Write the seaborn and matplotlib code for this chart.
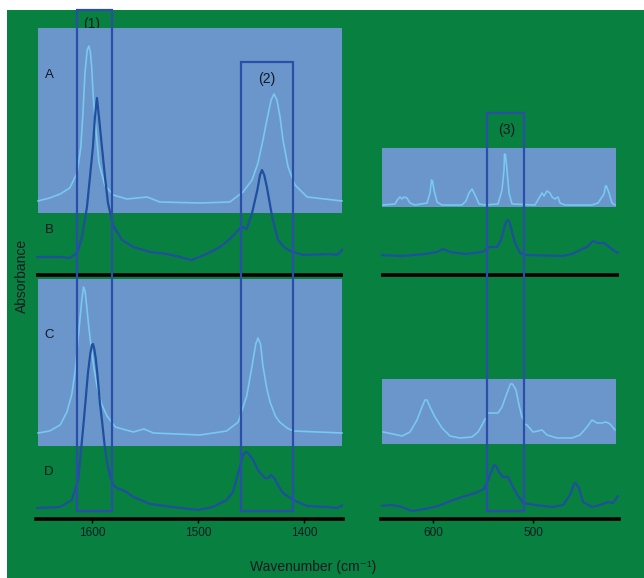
import matplotlib
matplotlib.use("Agg")
import matplotlib.pyplot as plt
from matplotlib.patches import Rectangle
import seaborn as sns
import numpy as np

sns.set_style("white")
plt.rcParams['font.family'] = ['Liberation Sans', 'DejaVu Sans']

# ---- left region, 1650-1365 cm-1 (absorbance relative to each trace's own baseline) ----
wn_A_left = [1651, 1640, 1630, 1621, 1614, 1610.5, 1608.5, 1606.6, 1604.5, 1603, 1601.5, 1600.3,
             1598.8, 1596.2, 1593.4, 1588, 1580, 1567, 1548, 1536, 1498, 1470, 1457.5, 1449,
             1443.4, 1438.7, 1435, 1431, 1428.3, 1425.5, 1422.6, 1419.8, 1415, 1408.5, 1397, 1364]
abs_A_left = [-0.01, 0.02, 0.06, 0.12, 0.27, 0.53, 0.87, 1.27, 1.50, 1.54, 1.48, 1.33, 1.03, 0.70,
              0.37, 0.15, 0.05, 0.01, 0.03, -0.02, -0.03, -0.02, 0.08, 0.20, 0.37, 0.60, 0.80,
              1.00, 1.06, 1.00, 0.83, 0.60, 0.33, 0.15, 0.03, -0.01]

wn_B_left = [1653, 1630, 1621, 1614, 1609.4, 1604.7, 1601.9, 1599.1, 1597.2, 1595.3, 1593.4,
             1590.6, 1587.7, 1584.9, 1580.2, 1571.7, 1561, 1545, 1529, 1517, 1506, 1492, 1479,
             1470, 1462, 1458.5, 1454, 1449, 1444, 1441.5, 1439.6, 1437.5, 1435, 1430, 1424.5,
             1419, 1413, 1401, 1375.5, 1369, 1363]
abs_B_left = [0.00, 0.00, -0.01, 0.04, 0.20, 0.50, 0.80, 1.10, 1.40, 1.59, 1.40, 1.10, 0.80, 0.54,
              0.32, 0.17, 0.10, 0.05, 0.03, 0.00, -0.03, 0.03, 0.10, 0.18, 0.27, 0.30, 0.28, 0.44,
              0.67, 0.82, 0.87, 0.82, 0.70, 0.40, 0.17, 0.10, 0.06, 0.02, 0.03, 0.02, 0.08]

wn_C_left = [1651, 1640, 1630, 1623.6, 1619, 1616, 1613.5, 1611.3, 1609.5, 1608, 1606.5, 1604.7,
             1603, 1600.9, 1598, 1595.3, 1591, 1585.8, 1578, 1561, 1551, 1542, 1498, 1473, 1462,
             1454, 1449, 1445.5, 1443.4, 1441, 1438.7, 1435, 1432, 1427, 1423, 1416, 1410, 1364]
abs_C_left = [0.01, 0.03, 0.09, 0.22, 0.40, 0.62, 0.90, 1.15, 1.35, 1.47, 1.43, 1.25, 1.07, 0.88,
              0.65, 0.48, 0.30, 0.18, 0.07, 0.02, 0.05, 0.01, -0.01, 0.03, 0.12, 0.38, 0.68, 0.90,
              0.96, 0.90, 0.68, 0.45, 0.32, 0.18, 0.12, 0.06, 0.03, 0.01]

wn_D_left = [1653, 1630, 1619, 1613, 1608.5, 1606, 1603.8, 1601.5, 1600, 1599.1, 1598, 1596.5,
             1595, 1592.5, 1590.6, 1588, 1585.8, 1583, 1580, 1575, 1571, 1566, 1561, 1545, 1524,
             1500, 1486, 1473, 1467, 1462, 1457.5, 1455, 1452.8, 1448, 1443.5, 1437, 1434, 1431,
             1428, 1425.5, 1420, 1410, 1397, 1378, 1369, 1363]
abs_D_left = [0.00, 0.01, 0.08, 0.28, 0.78, 1.08, 1.35, 1.55, 1.63, 1.64, 1.60, 1.50, 1.35, 1.05,
              0.88, 0.62, 0.46, 0.32, 0.23, 0.19, 0.18, 0.15, 0.11, 0.04, 0.01, -0.02, 0.01, 0.08,
              0.16, 0.35, 0.53, 0.56, 0.55, 0.48, 0.38, 0.30, 0.30, 0.33, 0.30, 0.25, 0.15, 0.08,
              0.02, 0.01, 0.00, 0.03]

# ---- right region, 650-415 cm-1 ----
wn_A_right = [650, 638, 635, 633, 631, 629, 626, 623, 618, 606, 603, 601.5, 600.5, 599, 596, 591,
              571, 567, 564, 561, 559, 557, 554, 548, 535, 531, 529, 528.5, 527.5, 526, 524, 521,
              498, 494, 491, 489, 486, 483, 481, 478, 475, 473, 468, 441, 435, 429, 427.5, 426.5,
              424, 421, 418]
abs_A_right = [0.00, 0.01, 0.06, 0.08, 0.06, 0.08, 0.07, 0.02, 0.00, 0.02, 0.12, 0.25, 0.24, 0.15,
               0.03, 0.00, 0.00, 0.04, 0.12, 0.16, 0.12, 0.08, 0.01, 0.00, 0.01, 0.15, 0.35, 0.51,
               0.50, 0.35, 0.12, 0.01, 0.00, 0.07, 0.12, 0.09, 0.14, 0.12, 0.08, 0.06, 0.08, 0.02,
               0.00, 0.00, 0.02, 0.11, 0.19, 0.19, 0.12, 0.02, 0.00]

wn_B_right = [653, 631, 608, 596, 590, 583, 568, 551, 543, 536, 532, 528, 526.5, 525, 523.5, 522,
              518, 513, 508, 471, 461, 455, 446, 440, 435, 429, 425, 420, 415]
abs_B_right = [0.00, -0.01, 0.01, 0.03, 0.06, 0.03, 0.01, 0.03, 0.08, 0.08, 0.15, 0.30, 0.34, 0.35,
               0.33, 0.27, 0.12, 0.02, 0.00, -0.01, 0.01, 0.04, 0.08, 0.14, 0.12, 0.12, 0.09, 0.05,
               0.02]

wn_C_right = [650, 640, 631, 623, 616, 611, 608, 606, 603, 598, 591, 583, 573, 561, 555, 551, 548,
              546.2, 545.8, 543, 535, 531, 526, 522.5, 520.5, 517, 514, 511, 509.2, 508.8, 506, 500,
              495, 491, 486, 476, 461, 453, 446, 441, 436, 431, 427, 423, 418]
abs_C_right = [0.06, 0.04, 0.02, 0.06, 0.18, 0.31, 0.38, 0.38, 0.31, 0.21, 0.10, 0.02, 0.00, 0.01,
               0.06, 0.13, 0.19, 0.20, 0.25, 0.25, 0.25, 0.31, 0.45, 0.54, 0.54, 0.48, 0.33, 0.21,
               0.18, 0.14, 0.13, 0.06, 0.07, 0.08, 0.03, 0.00, 0.00, 0.03, 0.11, 0.18, 0.15, 0.15,
               0.16, 0.14, 0.08]

wn_D_right = [653, 641, 631, 621, 608, 595, 585, 571, 558, 549, 545, 541, 539, 537, 534, 530, 525,
              521, 515, 510, 498, 481, 470, 463, 459, 457.5, 454, 450, 441, 433, 425, 420, 415]
abs_D_right = [-0.01, 0.00, -0.02, -0.06, -0.04, -0.01, 0.03, 0.08, 0.12, 0.16, 0.25, 0.35, 0.40,
               0.39, 0.33, 0.28, 0.28, 0.20, 0.09, 0.02, 0.00, -0.02, 0.00, 0.10, 0.21, 0.22, 0.17,
               0.03, -0.02, 0.00, 0.03, 0.02, 0.09]

left_ticks = [1600, 1500, 1400]
right_ticks = [600, 500]
letters = ['A', 'B', 'C', 'D']

GREEN = '#08803f'
PANEL = '#6b96cc'
CYAN = '#79c8ee'
DARK = '#1f4f9f'
BOX = '#2a4fa6'
TXT = '#111a22'

fig = plt.figure(figsize=(6.44, 5.78), dpi=100, facecolor='white')
fig.patches.append(Rectangle((7 / 644, 0), 1 - 7 / 644, 568 / 578, transform=fig.transFigure,
                             facecolor=GREEN, edgecolor='none', zorder=-10))

ax_l = fig.add_axes([0.0559, 0.1021, 0.4767, 0.8806])
ax_r = fig.add_axes([0.5916, 0.1021, 0.3696, 0.8806])

# vertical offsets of the four stacked traces in each panel
offs_left = [3.19, 2.62, 0.85, 0.11]
offs_right = [3.14, 2.64, 0.81, 0.14]

left_traces = [(wn_A_left, abs_A_left), (wn_B_left, abs_B_left),
               (wn_C_left, abs_C_left), (wn_D_left, abs_D_left)]
right_traces = [(wn_A_right, abs_A_right), (wn_B_right, abs_B_right),
                (wn_C_right, abs_C_right), (wn_D_right, abs_D_right)]

for ax, traces, offs, xlim, ticks in [
        (ax_l, left_traces, offs_left, (1652.8, 1363.2), left_ticks),
        (ax_r, right_traces, offs_right, (652, 414), right_ticks)]:
    ax.set_facecolor('none')
    for i, (wn, ab) in enumerate(traces):
        light = i in (0, 2)
        sns.lineplot(x=wn, y=np.array(ab) + offs[i], ax=ax, estimator=None, sort=False,
                     color=CYAN if light else DARK, lw=1.2 if light else 1.6,
                     zorder=2 if light else 3)
    ax.axhline(2.44, color='black', lw=2.6, zorder=3)
    ax.set_xlim(*xlim)
    ax.set_ylim(0, 5.09)
    ax.set_xticks(ticks)
    ax.set_xticklabels([str(t) for t in ticks])
    ax.set_yticks([])
    for s in ['top', 'left', 'right']:
        ax.spines[s].set_visible(False)
    ax.spines['bottom'].set_color('black')
    ax.spines['bottom'].set_linewidth(2.6)
    ax.tick_params(axis='x', direction='out', length=3, width=1, color='black',
                   labelsize=8.5, labelcolor=TXT, pad=3, bottom=True)

# shaded panels behind the light traces
ax_l.add_patch(Rectangle((1651, 3.06), 1364 - 1651, 4.91 - 3.06, facecolor=PANEL,
                         edgecolor='none', zorder=1))
ax_l.add_patch(Rectangle((1651, 0.73), 1364 - 1651, 2.40 - 0.73, facecolor=PANEL,
                         edgecolor='none', zorder=1))
ax_r.add_patch(Rectangle((651, 3.12), 417 - 651, 3.71 - 3.12, facecolor=PANEL,
                         edgecolor='none', zorder=1))
ax_r.add_patch(Rectangle((651, 0.75), 417 - 651, 1.40 - 0.75, facecolor=PANEL,
                         edgecolor='none', zorder=1))

# highlighted bands
for ax, x0, x1, top in [(ax_l, 1614, 1581, 5.09), (ax_l, 1459, 1410, 4.57), (ax_r, 546, 509, 4.06)]:
    ax.add_patch(Rectangle((x0, 0.08), x1 - x0, top - 0.08, facecolor='none', edgecolor=BOX,
                           lw=1.6, zorder=4, clip_on=False))

ax_l.text(1600, 4.95, '(1)', ha='center', va='center', fontsize=10, color=TXT, zorder=0.5)
ax_l.text(1435, 4.40, '(2)', ha='center', va='center', fontsize=10, color=TXT, zorder=5)
ax_r.text(526, 3.89, '(3)', ha='center', va='center', fontsize=10, color=TXT, zorder=5)

for lab, y in zip(letters, [4.44, 2.89, 1.84, 0.47]):
    ax_l.text(1640.5, y, lab, ha='center', va='center', fontsize=9.5, color=TXT, zorder=5)

fig.text(22 / 644, 0.5225, 'Absorbance', rotation=90, ha='center', va='center',
         fontsize=10, color=TXT)
fig.text(313 / 644, 0.019, 'Wavenumber (cm⁻¹)', ha='center', va='center',
         fontsize=10, color=TXT)

fig.savefig('out.png', dpi=100, facecolor=fig.get_facecolor())
